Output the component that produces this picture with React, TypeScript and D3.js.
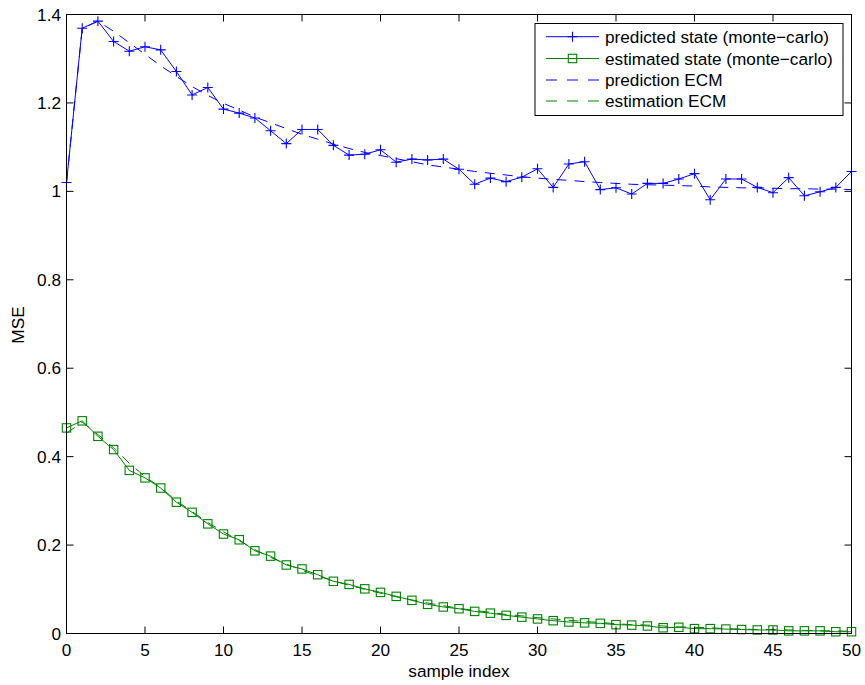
import React from "react";
import * as d3 from "d3";

const sampleIndex: number[] = d3.range(0, 51);

const predictedMC: number[] = [
  1.02, 1.369, 1.385, 1.339, 1.317, 1.327, 1.32, 1.271, 1.218, 1.235,
  1.186, 1.177, 1.166, 1.137, 1.108, 1.14, 1.14, 1.104, 1.082, 1.084,
  1.094, 1.066, 1.073, 1.071, 1.073, 1.05, 1.016, 1.03, 1.022, 1.032,
  1.051, 1.009, 1.062, 1.067, 1.004, 1.008, 0.994, 1.018, 1.018, 1.028,
  1.04, 0.981, 1.028, 1.028, 1.009, 0.997, 1.031, 0.99, 0.999, 1.009,
  1.045,
];

const estimatedMC: number[] = [
  0.465, 0.481, 0.446, 0.416, 0.369, 0.352, 0.329, 0.297, 0.274, 0.248,
  0.225, 0.212, 0.187, 0.175, 0.155, 0.146, 0.133, 0.118, 0.111, 0.101,
  0.093, 0.084, 0.075, 0.066, 0.06, 0.056, 0.05, 0.046, 0.041, 0.037,
  0.033, 0.029, 0.026, 0.024, 0.023, 0.02, 0.019, 0.017, 0.013, 0.014,
  0.011, 0.011, 0.01, 0.009, 0.008, 0.008, 0.006, 0.006, 0.006, 0.004,
  0.004,
];

const predictionECM: number[] = [
  1.02, 1.368, 1.385, 1.362, 1.336, 1.31, 1.284, 1.26, 1.237, 1.217,
  1.199, 1.184, 1.168, 1.155, 1.142, 1.129, 1.118, 1.107, 1.097, 1.088,
  1.081, 1.074, 1.067, 1.06, 1.055, 1.05, 1.045, 1.041, 1.037, 1.033,
  1.03, 1.027, 1.025, 1.022, 1.02, 1.018, 1.016, 1.015, 1.014, 1.013,
  1.012, 1.01, 1.009, 1.008, 1.008, 1.007, 1.006, 1.006, 1.005, 1.005,
  1.004,
];

const estimationECM: number[] = [
  0.453, 0.478, 0.45, 0.42, 0.385, 0.355, 0.33, 0.3, 0.276, 0.251,
  0.23, 0.21, 0.19, 0.172, 0.157, 0.143, 0.13, 0.119, 0.109, 0.1,
  0.091, 0.083, 0.076, 0.069, 0.063, 0.057, 0.052, 0.048, 0.043, 0.04,
  0.036, 0.033, 0.03, 0.027, 0.025, 0.022, 0.02, 0.019, 0.017, 0.015,
  0.014, 0.013, 0.011, 0.01, 0.009, 0.009, 0.008, 0.007, 0.006, 0.006,
  0.005,
];

const xTicks: number[] = [0, 5, 10, 15, 20, 25, 30, 35, 40, 45, 50];
const yTicks: number[] = [0, 0.2, 0.4, 0.6, 0.8, 1, 1.2, 1.4];

const legendLabels: string[] = [
  "predicted state (monte\u2212carlo)",
  "estimated state (monte\u2212carlo)",
  "prediction ECM",
  "estimation ECM",
];

const BLUE = "#0000ff";
const GREEN = "#008000";
const FONT = "'Liberation Sans', Arial, Helvetica, sans-serif";

export default function App() {
  const W = 865;
  const H = 685;
  const left = 66.5;
  const right = 851.5;
  const top = 14.5;
  const bottom = 633.5;

  const x = d3.scaleLinear().domain([0, 50]).range([left, right]);
  const y = d3.scaleLinear().domain([0, 1.4]).range([bottom, top]);

  const line = (vals: number[]) =>
    d3
      .line<number>()
      .x((_, i) => x(sampleIndex[i]))
      .y((v) => y(v))(vals) || "";

  const tickLen = 7;
  const fs = 17.2;

  const plus = (cx: number, cy: number, key: string) => (
    <path
      key={key}
      d={`M${cx - 5},${cy}H${cx + 5}M${cx},${cy - 5}V${cy + 5}`}
      stroke={BLUE}
      strokeWidth={1.1}
      fill="none"
    />
  );
  const square = (cx: number, cy: number, key: string) => (
    <rect
      key={key}
      x={cx - 4.2}
      y={cy - 4.2}
      width={8.4}
      height={8.4}
      stroke={GREEN}
      strokeWidth={1.1}
      fill="none"
    />
  );

  const lgX = 535;
  const lgY = 23.5;
  const lgW = 308;
  const lgH = 92;
  const rowY = [36.7, 58.5, 80, 101];
  const sampleX0 = 546;
  const sampleX1 = 599;
  const textX = 605;

  return (
    <svg
      width={W}
      height={H}
      style={{ position: "absolute", left: 0, top: 0, background: "#fff" }}
      fontFamily={FONT}
    >
      <rect x={0} y={0} width={W} height={H} fill="#fff" />
      <path d={line(predictionECM)} stroke={BLUE} strokeWidth={1} fill="none" strokeDasharray="10,8" />
      <path d={line(estimationECM)} stroke={GREEN} strokeWidth={1} fill="none" strokeDasharray="10,8" />
      <path d={line(predictedMC)} stroke={BLUE} strokeWidth={1} fill="none" />
      <path d={line(estimatedMC)} stroke={GREEN} strokeWidth={1} fill="none" />
      {predictedMC.map((v, i) => plus(x(sampleIndex[i]), y(v), "p" + i))}
      {estimatedMC.map((v, i) => square(x(sampleIndex[i]), y(v), "s" + i))}

      <rect x={left} y={top} width={right - left} height={bottom - top} fill="none" stroke="#000" strokeWidth={1} />
      {xTicks.map((t) => (
        <g key={"xt" + t}>
          <line x1={x(t)} x2={x(t)} y1={bottom} y2={bottom - tickLen} stroke="#000" />
          <line x1={x(t)} x2={x(t)} y1={top} y2={top + tickLen} stroke="#000" />
          <text x={x(t)} y={655.5} textAnchor="middle" fontSize={fs} fill="#000">
            {String(t)}
          </text>
        </g>
      ))}
      {yTicks.map((t) => (
        <g key={"yt" + t}>
          <line x1={left} x2={left + tickLen} y1={y(t)} y2={y(t)} stroke="#000" />
          <line x1={right} x2={right - tickLen} y1={y(t)} y2={y(t)} stroke="#000" />
          <text x={61} y={y(t) + 6} textAnchor="end" fontSize={fs} fill="#000">
            {String(t)}
          </text>
        </g>
      ))}
      <text x={459} y={677} textAnchor="middle" fontSize={fs} fill="#000">
        sample index
      </text>
      <text
        transform={`translate(24, 325) rotate(-90)`}
        textAnchor="middle"
        fontSize={fs}
        fill="#000"
      >
        MSE
      </text>

      <rect x={lgX} y={lgY} width={lgW} height={lgH} fill="#fff" stroke="#000" strokeWidth={1} />
      <line x1={sampleX0} x2={sampleX1} y1={rowY[0]} y2={rowY[0]} stroke={BLUE} />
      {plus((sampleX0 + sampleX1) / 2, rowY[0], "lp")}
      <line x1={sampleX0} x2={sampleX1} y1={rowY[1]} y2={rowY[1]} stroke={GREEN} />
      {square((sampleX0 + sampleX1) / 2, rowY[1], "ls")}
      <line x1={sampleX0} x2={sampleX1} y1={rowY[2]} y2={rowY[2]} stroke={BLUE} strokeDasharray="11,10" />
      <line x1={sampleX0} x2={sampleX1} y1={rowY[3]} y2={rowY[3]} stroke={GREEN} strokeDasharray="11,10" />
      {legendLabels.map((l, i) => (
        <text key={"lg" + i} x={textX} y={rowY[i] + 6} fontSize={fs} fill="#000">
          {l}
        </text>
      ))}
    </svg>
  );
}
